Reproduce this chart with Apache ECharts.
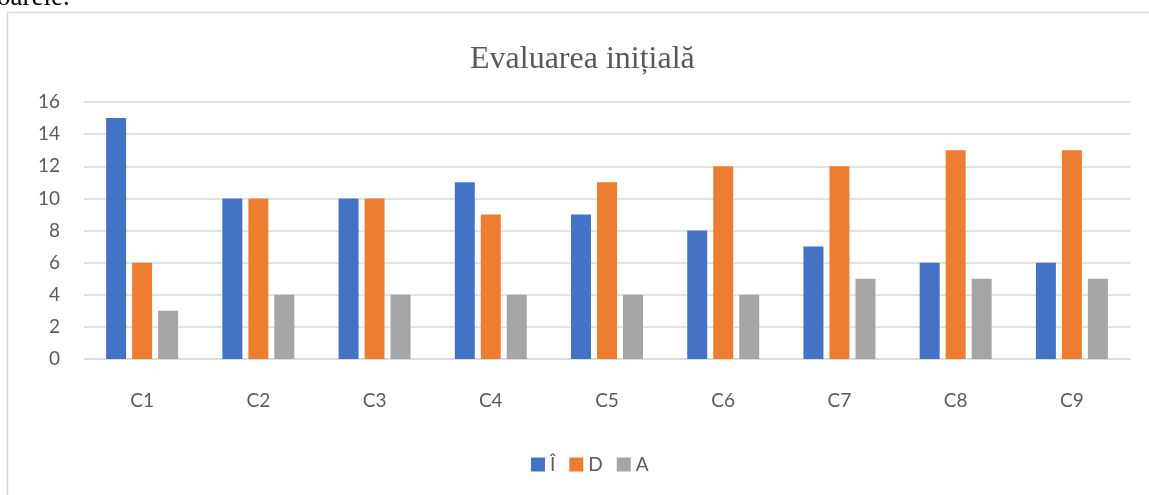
<!DOCTYPE html>
<html>
<head>
<meta charset="utf-8">
<script src="https://cdn.jsdelivr.net/npm/echarts@6/dist/echarts.min.js"></script>
<style>
  html, body { margin: 0; padding: 0; background: #fff; }
  #chart { width: 1149px; height: 495px; }
</style>
</head>
<body>
<div id="chart"></div>
<script>
// date grafic
const categories = ['C1', 'C2', 'C3', 'C4', 'C5', 'C6', 'C7', 'C8', 'C9'];
const seriesNames = ['Î', 'D', 'A'];
const valuesI = [15, 10, 10, 11, 9, 8, 7, 6, 6];
const valuesD = [6, 10, 10, 9, 11, 12, 12, 13, 13];
const valuesA = [3, 4, 4, 4, 4, 4, 5, 5, 5];
const colors = ['#4472C4', '#ED7D31', '#A5A5A5'];

const myChart = echarts.init(document.getElementById('chart'));

const labelFont = 'Lato, "Open Sans", sans-serif';

const option = {
  animation: false,
  backgroundColor: '#fff',
  color: colors,
  title: {
    text: 'Evaluarea inițială',
    left: 465,
    top: 39,
    textStyle: {
      fontFamily: '"Liberation Serif", "DejaVu Serif", serif',
      fontWeight: 'normal',
      fontSize: 32,
      color: '#595959'
    }
  },
  graphic: [
    {
      // rama diagramei
      type: 'rect',
      shape: { x: 7.5, y: 12.5, width: 1300, height: 600 },
      style: { fill: 'none', stroke: '#D9D9D9', lineWidth: 1.5 },
      silent: true
    },
    {
      // textul documentului de deasupra
      type: 'text',
      style: {
        x: -3,
        y: 11,
        verticalAlign: 'bottom',
        text: 'oarele.',
        font: '27px "Liberation Serif", serif',
        fill: '#000'
      },
      silent: true
    }
  ],
  legend: {
    data: seriesNames,
    bottom: 16,
    left: 526,
    itemWidth: 14,
    itemHeight: 14,
    itemGap: 14,
    icon: 'rect',
    textStyle: {
      fontFamily: labelFont,
      fontSize: 19,
      color: '#595959'
    }
  },
  grid: {
    left: 84,
    right: 19,
    top: 102,
    bottom: 136
  },
  xAxis: {
    type: 'category',
    data: categories,
    axisLine: { lineStyle: { color: '#D9D9D9', width: 1.5 } },
    axisTick: { show: false },
    axisLabel: {
      margin: 32,
      fontFamily: labelFont,
      fontSize: 19,
      color: '#595959'
    }
  },
  yAxis: {
    type: 'value',
    min: 0,
    max: 16,
    interval: 2,
    axisLine: { show: false },
    axisTick: { show: false },
    splitLine: { lineStyle: { color: '#D9D9D9', width: 1.5 } },
    axisLabel: {
      margin: 24,
      fontFamily: labelFont,
      fontSize: 19,
      color: '#595959'
    }
  },
  series: [
    { name: seriesNames[0], type: 'bar', data: valuesI, barWidth: 20, barGap: '30%' },
    { name: seriesNames[1], type: 'bar', data: valuesD, barWidth: 20, barGap: '30%' },
    { name: seriesNames[2], type: 'bar', data: valuesA, barWidth: 20, barGap: '30%' }
  ]
};

myChart.setOption(option);
</script>
</body>
</html>
